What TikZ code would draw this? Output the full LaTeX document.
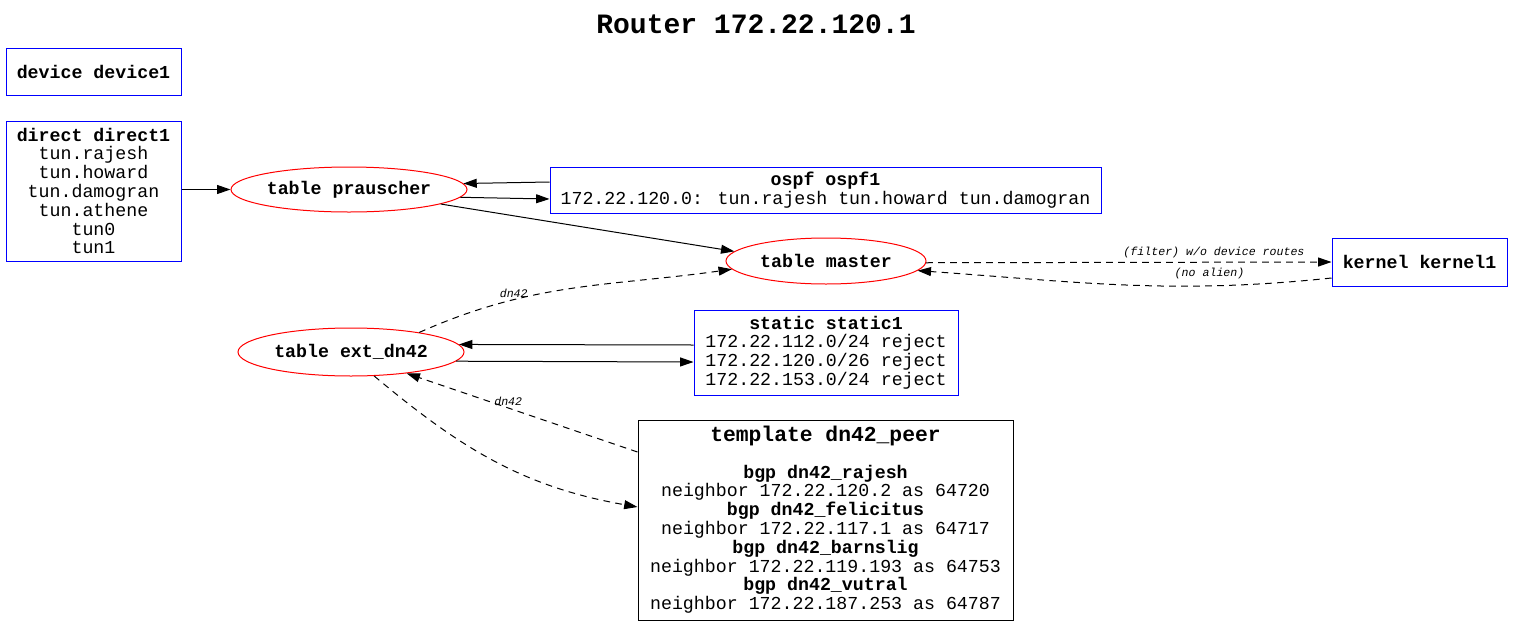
\documentclass[tikz,border=0pt]{standalone}
\usepackage{fontspec}
\setmainfont{Liberation Mono}
\usetikzlibrary{shapes.geometric,arrows.meta,calc}

\begin{document}
\begin{tikzpicture}[
    x=0.75pt, y=0.75pt,
    every node/.style={font=\fontsize{13.7}{14.1}\selectfont},
    cfg/.style={draw=blue, rectangle, align=center, inner sep=0pt, line width=0.75pt},
    tbl/.style={draw=red, ellipse, inner sep=0pt, line width=0.75pt,
                font=\fontsize{13.7}{14.1}\selectfont\bfseries},
    lbl/.style={font=\fontsize{8.7}{9}\selectfont\itshape, inner sep=1.5pt},
    flow/.style={-{Triangle[length=10pt,width=6.7pt]}, line width=0.75pt},
    proto/.style={flow, dash pattern=on 5pt off 4pt}
]
\useasboundingbox (0,0) rectangle (1513,-625);

% title
\node[font=\fontsize{21}{21}\selectfont\bfseries] (title) at (756,-24) {Router 172.22.120.1};

% protocols
\node[cfg, minimum width=131.25pt, minimum height=35.25pt] (device1) at (93.5,-71.5)
    {\textbf{device device1}};
\node[cfg, minimum width=131.25pt, minimum height=105pt] (direct1) at (93.5,-191)
    {\textbf{direct direct1}\\tun.rajesh\\tun.howard\\tun.damogran\\tun.athene\\tun0\\tun1};
\node[cfg, minimum width=413.25pt, minimum height=34.5pt] (ospf1) at (825.5,-190)
    {\textbf{ospf ospf1}\\172.22.120.0: tun.rajesh tun.howard tun.damogran};
\node[cfg, minimum width=131.25pt, minimum height=36pt] (kernel1) at (1419.5,-262)
    {\textbf{kernel kernel1}};
\node[cfg, minimum width=198pt, minimum height=63.75pt] (static1) at (826,-352.5)
    {\textbf{static static1}\\172.22.112.0/24 reject\\172.22.120.0/26 reject\\172.22.153.0/24 reject};
\node[cfg, draw=black, minimum width=281.25pt, minimum height=150pt] (peer) at (825.5,-520)
    {{\fontsize{16}{16}\selectfont\bfseries template dn42\_peer}\\[13pt]
     \textbf{bgp dn42\_rajesh}\\neighbor 172.22.120.2 as 64720\\
     \textbf{bgp dn42\_felicitus}\\neighbor 172.22.117.1 as 64717\\
     \textbf{bgp dn42\_barnslig}\\neighbor 172.22.119.193 as 64753\\
     \textbf{bgp dn42\_vutral}\\neighbor 172.22.187.253 as 64787};

% tables
\node[tbl, minimum width=177pt, minimum height=33.75pt] (prauscher) at (349,-189.5) {table prauscher};
\node[tbl, minimum width=150pt, minimum height=34.5pt] (master) at (826,-261) {table master};
\node[tbl, minimum width=169.5pt, minimum height=36pt] (extdn42) at (351,-352) {table ext\_dn42};

% channels
\draw[flow] (direct1.east |- prauscher.west) -- (prauscher.west);
\draw[flow] ($(ospf1.west)+(0,8)$) -- (prauscher.3);
\draw[flow] (prauscher.-4) -- ($(ospf1.west)+(0,-9)$);
\draw[flow] (prauscher.-9) -- (master.174);
\draw[proto] (master.-1) -- node[lbl, above=1pt, pos=0.71] {(filter) w/o device routes} (kernel1.west);
\draw[proto] ($(kernel1.west)+(0,-16)$) to[out=186, in=-4]
    node[lbl, above=3pt, pos=0.28] {(no alien)} (master.-6);
\draw[proto] (extdn42.16.5) to[out=24, in=-172] node[lbl, above, pos=0.3] {dn42} (master.185);
\draw[flow] ($(static1.west)+(0,7.5)$) -- (extdn42.4);
\draw[flow] (extdn42.-5) -- ($(static1.west)+(0,-9.5)$);
\draw[proto] ($(peer.west)+(0,68)$) -- node[lbl, above, pos=0.56] {dn42} (extdn42.-21);
\draw[proto] (extdn42.-46) to[out=-40, in=170] ($(peer.west)+(0,13)$);
\end{tikzpicture}
\end{document}
